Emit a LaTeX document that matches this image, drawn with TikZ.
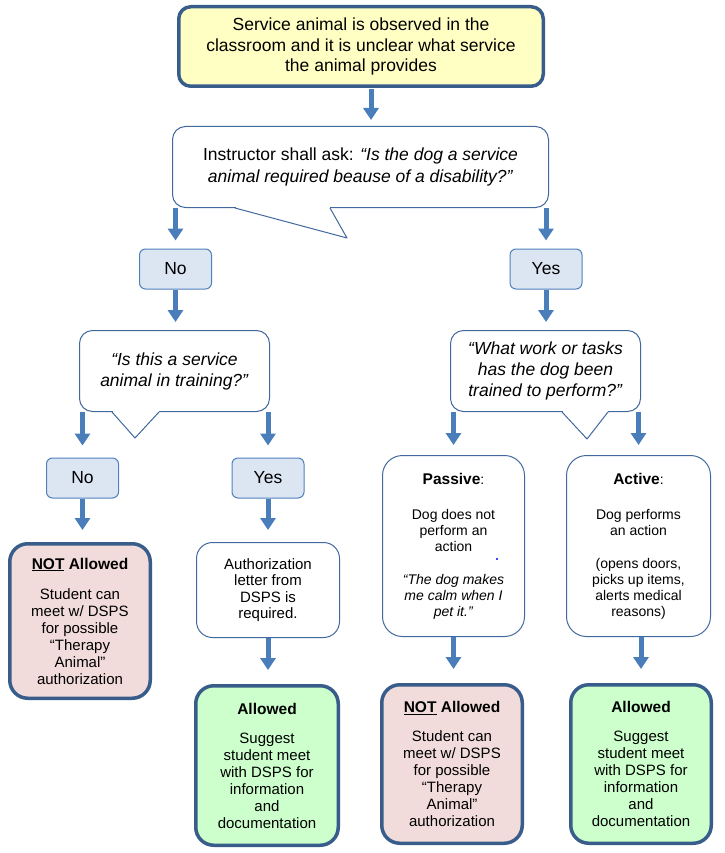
\documentclass[tikz,border=0pt]{standalone}
\usepackage{fontspec}
\setmainfont{Liberation Sans}
\usetikzlibrary{arrows.meta}
\definecolor{thickb}{RGB}{56,93,138}
\definecolor{thinb}{RGB}{65,105,160}
\definecolor{arrowc}{RGB}{74,126,187}
\definecolor{yel}{RGB}{255,255,196}
\definecolor{pinkf}{RGB}{242,220,219}
\definecolor{greenf}{RGB}{204,255,204}
\definecolor{bluef}{RGB}{220,230,242}
\definecolor{ynb}{RGB}{79,129,189}
\newcommand\mytitle[1]{{\fontsize{15.5}{17}\selectfont\bfseries #1}}
\begin{document}
\begin{tikzpicture}[x=1pt,y=-1pt,
  bigtxt/.style={font=\fontsize{17.5}{21}\selectfont},
  bodytxt/.style={font=\fontsize{15}{17}\selectfont},
  smalltxt/.style={font=\fontsize{14}{16}\selectfont},
  thickbox/.style={draw=thickb, line width=3.5pt, rounded corners=18, align=center, inner sep=0pt},
  thinbox/.style={draw=thinb, line width=1pt, fill=white, align=center, inner sep=0pt},
  calloutbox/.style={thinbox, rounded corners=13, bigtxt},
  ynbox/.style={draw=ynb, line width=1pt, fill=bluef, rounded corners=6, minimum width=72, minimum height=40, inner sep=0pt, bigtxt},
  legline/.style={draw=thinb, line width=1pt, line join=round},
  arr/.style={draw=arrowc, line width=5pt, -{Triangle[width=15pt,length=12pt]}}]
\fill[white] (0,0) rectangle (724,853);
\useasboundingbox (0,0) rectangle (724,853);

% top box
\node[thickbox, fill=yel, rounded corners=12, minimum width=364.5, minimum height=79.5,
      font=\fontsize{17.5}{20.5}\selectfont] (top) at (361,46.5)
  {Service animal is observed in the\\classroom and it is unclear what service\\the animal provides};

% callout 1
\node[calloutbox, minimum width=376, minimum height=81, font=\fontsize{17.5}{22}\selectfont] (c1) at (360.5,167)
  {Instructor shall ask: \textit{“Is the dog a service}\\\textit{animal required beause of a disability?”}};
\fill[white] (235.5,206.5) rectangle (329.5,209.5);
\draw[legline] (235,208) -- (347,238) -- (330,208);

% first No / Yes
\node[ynbox] (noA) at (175.5,269) {No};
\node[ynbox] (yesA) at (546,269) {Yes};

% callout 2
\node[calloutbox, minimum width=190, minimum height=81] (c2) at (174.5,371)
  {\textit{“Is this a service}\\\textit{animal in training?”}};
\fill[white] (112.5,410.5) rectangle (158.5,413.5);
\draw[legline] (112,412) -- (135,438) -- (159,412);

% callout 3
\node[calloutbox, minimum width=190, minimum height=81] (c3) at (545.5,371)
  {\textit{“What work or tasks}\\\textit{has the dog been}\\\textit{trained to perform?”}};
\fill[white] (562.5,410.5) rectangle (607.5,413.5);
\draw[legline] (562,412) -- (587,439) -- (608,412);

% second No / Yes
\node[ynbox] (noB) at (82.5,478) {No};
\node[ynbox] (yesB) at (268,478) {Yes};

% passive / active
\node[thinbox, rounded corners=20, minimum width=142, minimum height=181, smalltxt] (passive) at (453.5,546)
  {\mytitle{Passive}:\\[19pt]Dog does not\\perform an\\action\\[17pt]\textit{“The dog makes}\\\textit{me calm when I}\\\textit{pet it.”}};
\node[thinbox, rounded corners=20, minimum width=144, minimum height=181, smalltxt] (active) at (638.5,546)
  {\mytitle{Active}:\\[19pt]Dog performs\\an action\\[17pt](opens doors,\\picks up items,\\alerts medical\\reasons)};
\fill[blue] (497,559) circle (1.1);

% authorization
\node[thinbox, rounded corners=16, minimum width=143, minimum height=95, font=\fontsize{15}{16.5}\selectfont] (auth) at (268,590)
  {Authorization\\letter from\\DSPS is\\required.};

% outcome boxes
\node[thickbox, fill=pinkf, minimum width=140.5, minimum height=154.5, bodytxt] (notA) at (80,621)
  {\mytitle{\underline{NOT} Allowed}\\[13pt]Student can\\meet w/ DSPS\\for possible\\“Therapy\\Animal”\\authorization};
\node[thickbox, fill=greenf, minimum width=142.5, minimum height=159.5, bodytxt] (allow1) at (267,765.5)
  {\mytitle{Allowed}\\[12pt]Suggest\\student meet\\with DSPS for\\information\\and\\documentation};
\node[thickbox, fill=pinkf, minimum width=140.5, minimum height=158.5, bodytxt] (notB) at (452,764)
  {\mytitle{\underline{NOT} Allowed}\\[12pt]Student can\\meet w/ DSPS\\for possible\\“Therapy\\Animal”\\authorization};
\node[thickbox, fill=greenf, minimum width=140.5, minimum height=158.5, bodytxt] (allow3) at (641,764)
  {\mytitle{Allowed}\\[12pt]Suggest\\student meet\\with DSPS for\\information\\and\\documentation};

% arrows
\draw[arr, shorten <=1.5pt, shorten >=6pt] ([xshift=10pt]top.south) -- ([xshift=10pt]top.south |- c1.north);
\draw[arr, shorten >=8pt] (noA.north |- c1.south) -- (noA.north);
\draw[arr, shorten >=8pt] (yesA.north |- c1.south) -- (yesA.north);
\draw[arr, shorten >=8pt] (noA.south) -- (noA.south |- c2.north);
\draw[arr, shorten >=8pt] (yesA.south) -- (yesA.south |- c3.north);
\draw[arr, shorten >=12pt] (noB.north |- c2.south) -- (noB.north);
\draw[arr, shorten >=12pt] (yesB.north |- c2.south) -- (yesB.north);
\draw[arr, shorten >=10pt] (passive.north |- c3.south) -- (passive.north);
\draw[arr, shorten >=10pt] (active.north |- c3.south) -- (active.north);
\draw[arr, shorten >=12pt] (noB.south) -- (noB.south |- notA.north);
\draw[arr, shorten >=12pt] (yesB.south) -- (yesB.south |- auth.north);
\draw[arr, shorten >=14pt] (auth.south) -- (auth.south |- allow1.north);
\draw[arr, shorten >=14pt] (passive.south) -- (passive.south |- notB.north);
\draw[arr, shorten >=14pt] (allow3.north |- active.south) -- (allow3.north);
\end{tikzpicture}
\end{document}
